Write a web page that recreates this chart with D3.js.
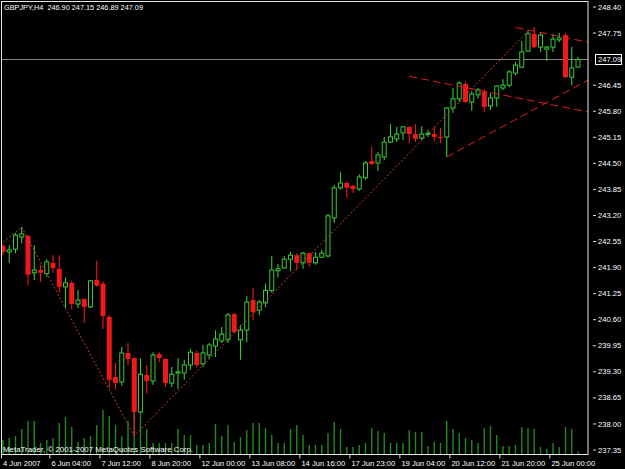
<!DOCTYPE html>
<html><head><meta charset="utf-8">
<script src="https://cdn.jsdelivr.net/npm/d3@7/dist/d3.min.js"></script>
<style>html,body{margin:0;padding:0;background:#000;overflow:hidden}svg{display:block}</style>
</head><body>
<script>
const headerText = "GBPJPY,H4  246.90 247.15 246.89 247.09";
const copyrightText = "MetaTrader, \u00A9 2001-2007 MetaQuotes Software Corp.";

const opens = [242.44,242.29,242.36,242.66,242.69,241.77,241.84,241.75,242.02,241.87,
241.42,241.52,240.99,241.12,240.92,241.59,241.50,240.67,239.17,239.05,
239.77,239.64,238.30,239.22,239.07,239.74,239.62,239.02,239.27,239.27,
239.47,239.77,239.50,239.72,239.94,240.07,240.10,240.74,240.10,240.34,
241.09,240.84,241.02,241.33,241.82,241.89,242.11,242.21,242.02,242.26,
242.02,242.16,242.19,243.14,243.89,244.01,243.94,243.86,244.14,244.56,
244.51,244.66,245.03,245.11,245.26,245.41,245.23,245.13,245.23,245.23,
245.16,245.16,245.88,246.11,246.48,246.03,246.21,246.28,245.93,246.13,
246.38,246.45,246.75,246.90,247.30,247.73,247.40,247.35,247.40,247.58,
247.70,246.65,246.90];
const highs = [242.49,242.46,242.76,242.91,242.71,242.46,241.97,242.11,242.21,242.21,
241.65,241.57,241.34,241.13,241.59,242.07,241.55,240.72,239.52,239.92,
240.02,239.67,239.64,239.47,239.79,239.79,239.64,239.42,239.64,239.60,
239.87,239.84,239.97,240.02,240.34,240.42,240.77,240.77,240.47,241.19,
241.40,241.09,241.50,242.19,241.99,242.19,242.29,242.26,242.29,242.27,
242.29,242.34,243.24,243.96,244.28,244.04,243.96,244.23,244.56,244.91,
244.78,245.16,245.48,245.41,245.43,245.42,245.48,245.43,245.33,245.41,
245.38,245.90,246.38,246.55,246.55,246.30,246.38,246.35,246.26,246.45,
246.60,246.83,247.03,247.55,247.80,247.90,247.75,247.43,247.73,247.75,
247.75,247.40,247.15];
const lows = [242.21,242.02,242.26,242.51,241.47,241.59,241.54,241.67,241.77,241.27,
240.89,240.87,240.89,240.52,240.89,241.42,240.37,238.90,238.85,238.95,
239.47,237.70,238.27,238.75,238.97,239.54,238.92,238.92,238.87,239.10,
239.35,239.42,239.42,239.62,239.67,240.02,240.02,240.27,239.60,240.04,
240.59,240.72,240.92,241.27,241.65,241.87,241.82,241.84,241.87,241.92,
241.97,242.14,242.16,243.01,243.84,243.64,243.76,243.81,244.09,244.46,
244.31,244.58,245.01,245.03,245.08,245.01,245.03,245.08,245.16,245.06,
245.01,244.66,245.76,246.03,246.01,245.81,246.11,245.78,245.83,245.91,
246.33,246.40,246.70,246.88,247.28,247.38,247.28,247.05,247.28,247.53,
246.63,246.45,246.89];
const closes = [242.29,242.34,242.71,242.74,241.72,241.84,241.77,242.04,241.89,241.42,
241.52,240.99,241.09,240.92,241.57,241.45,240.69,239.10,239.02,239.77,
239.62,238.30,239.24,239.07,239.72,239.64,239.02,239.24,239.30,239.47,
239.79,239.47,239.77,239.97,240.12,240.24,240.72,240.29,240.34,241.04,
240.79,241.04,241.33,241.84,241.87,242.11,242.21,242.02,242.26,242.02,
242.16,242.26,243.19,243.89,244.01,243.89,243.86,244.16,244.51,244.48,
244.71,245.03,245.16,245.23,245.41,245.23,245.11,245.23,245.25,245.16,
245.13,245.88,246.11,246.50,246.03,246.23,246.33,245.91,246.13,246.43,
246.45,246.78,246.95,247.28,247.73,247.40,247.70,247.40,247.60,247.63,
246.65,246.88,247.09];
const volumes = [280,320,360,500,660,660,220,280,320,620,
740,540,240,320,360,580,880,760,580,360,
660,880,820,500,220,220,220,220,500,380,
380,180,180,220,600,360,580,240,340,480,
620,620,520,380,220,220,500,580,380,180,
180,180,420,640,500,140,140,180,220,520,
460,420,220,220,220,480,440,440,160,240,
220,660,500,420,320,280,220,520,560,380,
160,160,180,540,520,500,140,100,220,140,
540,500,50];

const timeLabels = ["4 Jun 2007","6 Jun 04:00","7 Jun 12:00","8 Jun 20:00","12 Jun 00:00","13 Jun 08:00",
  "14 Jun 16:00","17 Jun 23:00","19 Jun 04:00","20 Jun 12:00","21 Jun 20:00","25 Jun 00:00"];
const timeLabelBars = [0,8,16,24,32,40,48,56,64,72,80,88];
const priceTicks = [248.40,247.75,247.09,246.45,245.80,245.15,244.50,243.85,243.20,242.55,241.90,241.25,240.60,239.95,239.30,238.65,238.00,237.35];
const lastPrice = 247.09;

// trend objects: [bar index, price]
const zigzag = [[-3,242.16],[3,242.91],[21,237.70],[84,247.80]];
const channelUpper = [[82,247.89],[94,247.51]];
const channelLower = [[65,246.67],[94,245.77]];
const supportLine = [[71,244.66],[94,246.61]];

const W = 625, H = 469;
const plot = {left: 1.5, top: 1.5, right: 588, bottom: 454.5};
const svg = d3.select("body").append("svg").attr("width", W).attr("height", H);
svg.append("rect").attr("width", W).attr("height", H).attr("fill", "#000");

const x = d3.scaleLinear().domain([0, opens.length - 1]).range([3, 578]);
const y = d3.scaleLinear().domain([237.35, 248.40]).range([450, 7]);
const vy = d3.scaleLinear().domain([0, 1000]).range([454, 404]);

svg.append("defs").append("clipPath").attr("id", "clip")
  .append("rect").attr("x", plot.left + 0.5).attr("y", plot.top + 0.5)
  .attr("width", plot.right - plot.left - 0.5).attr("height", plot.bottom - plot.top - 0.5);
const g = svg.append("g").attr("clip-path", "url(#clip)");

const green = "#38c838", red = "#f01818";
const data = opens.map((o, i) => ({i, o, h: highs[i], l: lows[i], c: closes[i], v: volumes[i]}));

// volumes
g.selectAll("line.vol").data(data).join("line").attr("class", "vol")
  .attr("x1", d => x(d.i)).attr("x2", d => x(d.i))
  .attr("y1", vy(0)).attr("y2", d => vy(d.v))
  .attr("stroke", "#1f8a1f").attr("stroke-width", 1.4);

// current price line
g.append("line").attr("x1", plot.left).attr("x2", plot.right)
  .attr("y1", y(lastPrice)).attr("y2", y(lastPrice))
  .attr("stroke", "#858585").attr("stroke-width", 1);

// candles
const cg = g.append("g");
cg.selectAll("line.wick").data(data).join("line").attr("class", "wick")
  .attr("x1", d => x(d.i)).attr("x2", d => x(d.i))
  .attr("y1", d => y(d.h)).attr("y2", d => y(d.l))
  .attr("stroke", d => d.c >= d.o ? green : red).attr("stroke-width", 1.1);
cg.selectAll("rect.body").data(data).join("rect").attr("class", "body")
  .attr("x", d => x(d.i) - (d.c >= d.o ? 2 : 2.5))
  .attr("width", d => d.c >= d.o ? 4 : 5)
  .attr("y", d => y(Math.max(d.o, d.c)))
  .attr("height", d => Math.max(1, Math.abs(y(d.o) - y(d.c))))
  .attr("fill", d => d.c >= d.o ? "#000" : red)
  .attr("stroke", d => d.c >= d.o ? green : "none")
  .attr("stroke-width", 1);

// trend lines
const line = d3.line().x(d => x(d[0])).y(d => y(d[1]));
g.append("path").attr("d", line(zigzag)).attr("fill", "none")
  .attr("stroke", "#c8402f").attr("stroke-width", 1).attr("stroke-dasharray", "2,2");
[channelUpper, channelLower, supportLine].forEach(pts => {
  g.append("path").attr("d", line(pts)).attr("fill", "none")
    .attr("stroke", "#e01c1c").attr("stroke-width", 1).attr("stroke-dasharray", "8,4");
});

// frame
svg.append("rect").attr("x", plot.left).attr("y", plot.top)
  .attr("width", plot.right - plot.left).attr("height", plot.bottom - plot.top)
  .attr("fill", "none").attr("stroke", "#e8e8e8").attr("stroke-width", 1);

const font = "'Liberation Sans', Arial, sans-serif";
// price axis
const pa = svg.append("g");
priceTicks.filter(p => p !== lastPrice).forEach(p => {
  pa.append("line").attr("x1", 593).attr("x2", 596).attr("y1", y(p)).attr("y2", y(p))
    .attr("stroke", "#ddd").attr("stroke-width", 1);
  pa.append("text").attr("x", 598).attr("y", y(p) + 2.6).text(p.toFixed(2))
    .attr("fill", "#fff").attr("font-family", font).attr("font-size", "7.6px");
});
// last price box
pa.append("rect").attr("x", 595.5).attr("y", y(lastPrice) - 5).attr("width", 26).attr("height", 10)
  .attr("fill", "#000").attr("stroke", "#fff").attr("stroke-width", 1);
pa.append("text").attr("x", 598).attr("y", y(lastPrice) + 2.6).text(lastPrice.toFixed(2))
  .attr("fill", "#fff").attr("font-family", font).attr("font-size", "7.6px");

// time axis
const ta = svg.append("g");
timeLabelBars.forEach((b, k) => {
  const tx = Math.max(plot.left, x(b) - 3.125);
  ta.append("line").attr("x1", tx).attr("x2", tx).attr("y1", plot.bottom).attr("y2", plot.bottom + 4)
    .attr("stroke", "#ddd").attr("stroke-width", 1);
  ta.append("text").attr("x", tx + 1.5).attr("y", 465.5).text(timeLabels[k])
    .attr("fill", "#fff").attr("font-family", font).attr("font-size", "7.6px");
});

// header & copyright
svg.append("text").attr("x", 4).attr("y", 9.5).text(headerText)
  .attr("fill", "#fff").attr("font-family", font).attr("font-size", "7.6px")
  .attr("textLength", 139).attr("lengthAdjust", "spacingAndGlyphs").style("white-space", "pre");
svg.append("text").attr("x", 3).attr("y", 451.5).text(copyrightText)
  .attr("fill", "#fff").attr("font-family", font).attr("font-size", "7.6px")
  .attr("textLength", 190).attr("lengthAdjust", "spacingAndGlyphs");
</script>
</body></html>
